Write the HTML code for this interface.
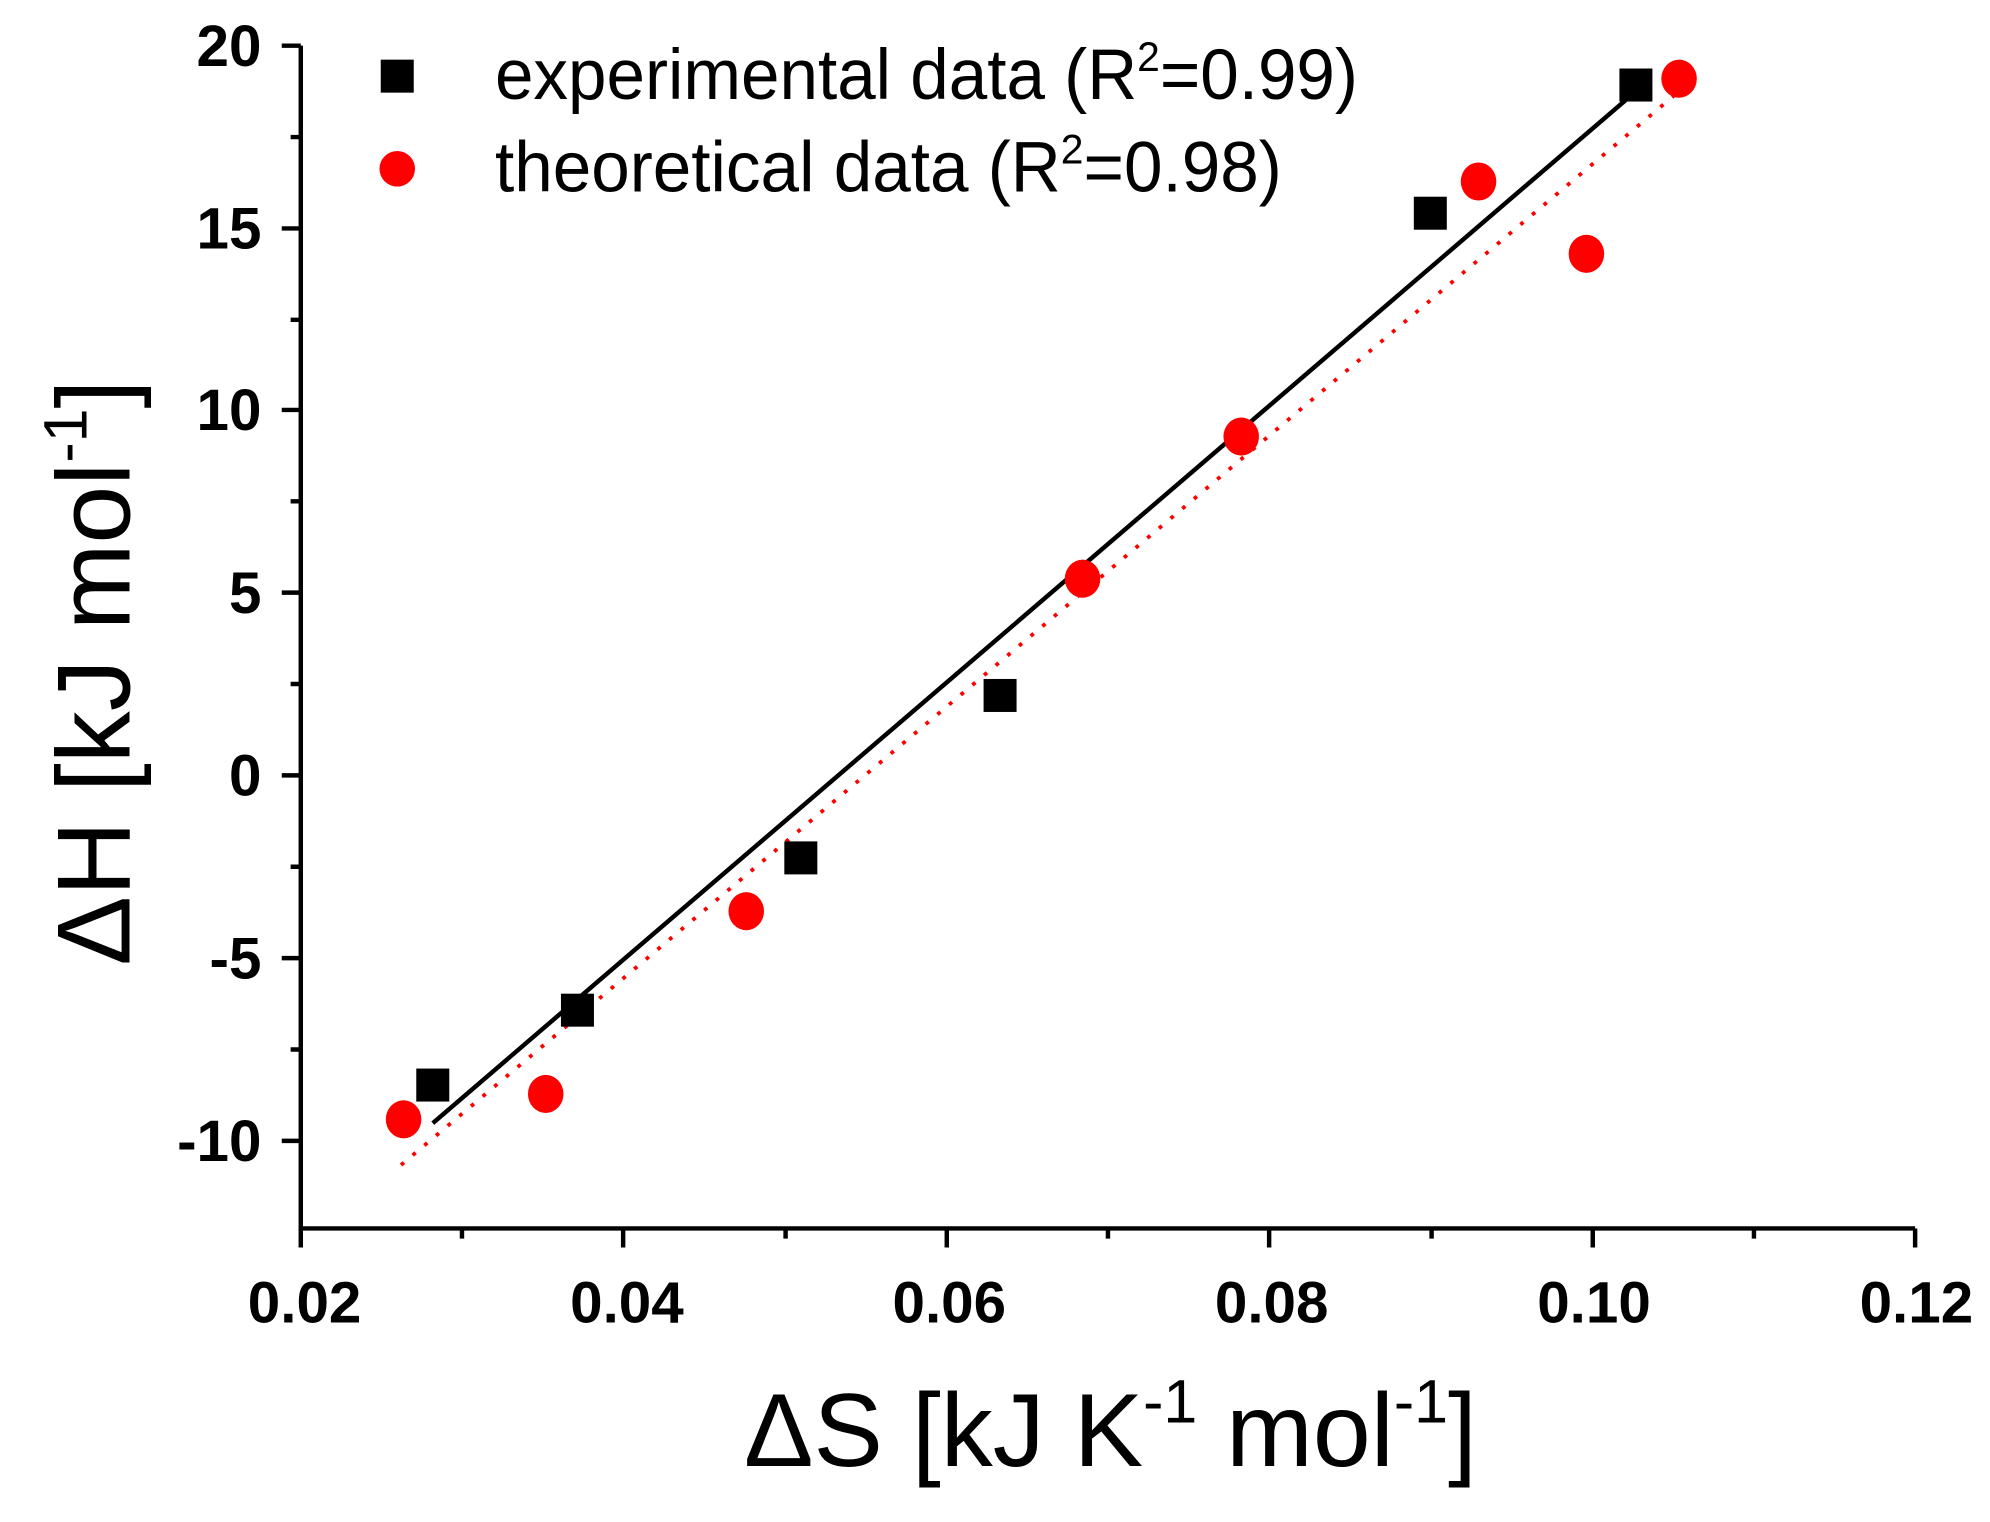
<!DOCTYPE html>
<html><head><style>html,body{margin:0;padding:0;background:#fff}svg{display:block}</style></head>
<body>
<svg width="1990" height="1522" viewBox="0 0 1568 1199.3" preserveAspectRatio="none" xmlns="http://www.w3.org/2000/svg" font-family="Liberation Sans, Arial, sans-serif">
<rect width="1568" height="1200" fill="#fff"/>
<g stroke="#000" stroke-width="3.5" fill="none">
<path d="M237 36 V968 H1509"/>
<path d="M222 36H237M222 180H237M222 323H237M222 467H237M222 611H237M222 755H237M222 899H237"/>
<path d="M229 108H237M229 252H237M229 395H237M229 539H237M229 683H237M229 827H237"/>
<path d="M237 968V983M491 968V983M746 968V983M1000 968V983M1255 968V983M1509 968V983"/>
<path d="M364 968V976M619 968V976M873 968V976M1128 968V976M1382 968V976"/>
</g>
<g font-weight="bold" font-size="46" text-anchor="end" fill="#000">
<text x="206" y="52">20</text><text x="206" y="196">15</text><text x="206" y="339">10</text>
<text x="206" y="483">5</text><text x="206" y="627">0</text><text x="206" y="771">-5</text><text x="206" y="915">-10</text>
</g>
<g font-weight="bold" font-size="46" text-anchor="middle" fill="#000">
<text x="240" y="1042">0.02</text><text x="494" y="1042">0.04</text><text x="748" y="1042">0.06</text>
<text x="1002" y="1042">0.08</text><text x="1256" y="1042">0.10</text><text x="1510" y="1042">0.12</text>
</g>
<text x="875" y="1155" font-size="82" text-anchor="middle">ΔS [kJ K<tspan font-size="48" dy="-34">-1</tspan><tspan dy="34"> mol</tspan><tspan font-size="48" dy="-34">-1</tspan><tspan dy="34">]</tspan></text>
<text transform="translate(102,530) rotate(-90)" font-size="82" text-anchor="middle">ΔH [kJ mol<tspan font-size="48" dy="-34">-1</tspan><tspan dy="34">]</tspan></text>
<line x1="341" y1="885" x2="1289" y2="72" stroke="#000" stroke-width="3.5"/>
<line x1="316" y1="918" x2="1323" y2="72" stroke="#f00" stroke-width="3" stroke-dasharray="3,9"/>
<g fill="#000">
<rect x="328" y="842" width="26" height="26"/><rect x="442" y="783" width="26" height="26"/>
<rect x="618" y="663" width="26" height="26"/><rect x="775" y="535" width="26" height="26"/>
<rect x="1114" y="155" width="26" height="26"/><rect x="1276" y="54" width="26" height="26"/>
<rect x="300" y="47" width="26" height="26"/>
</g>
<g fill="#f00">
<ellipse cx="318" cy="882" rx="14" ry="15"/><ellipse cx="430" cy="862" rx="14" ry="15"/>
<ellipse cx="588" cy="718" rx="14" ry="15"/><ellipse cx="853" cy="456" rx="14" ry="15"/>
<ellipse cx="978" cy="344" rx="14" ry="15"/><ellipse cx="1165" cy="143" rx="14" ry="15"/>
<ellipse cx="1250" cy="200" rx="14" ry="15"/><ellipse cx="1323" cy="62" rx="14" ry="15"/>
<ellipse cx="313" cy="133" rx="14" ry="14"/>
</g>
<text x="390" y="78" font-size="56" textLength="680" lengthAdjust="spacingAndGlyphs">experimental data (R<tspan font-size="33" dy="-22">2</tspan><tspan dy="22">=0.99)</tspan></text>
<text x="390" y="151" font-size="56" textLength="620" lengthAdjust="spacingAndGlyphs">theoretical data (R<tspan font-size="33" dy="-22">2</tspan><tspan dy="22">=0.98)</tspan></text>
</svg>
</body></html>
